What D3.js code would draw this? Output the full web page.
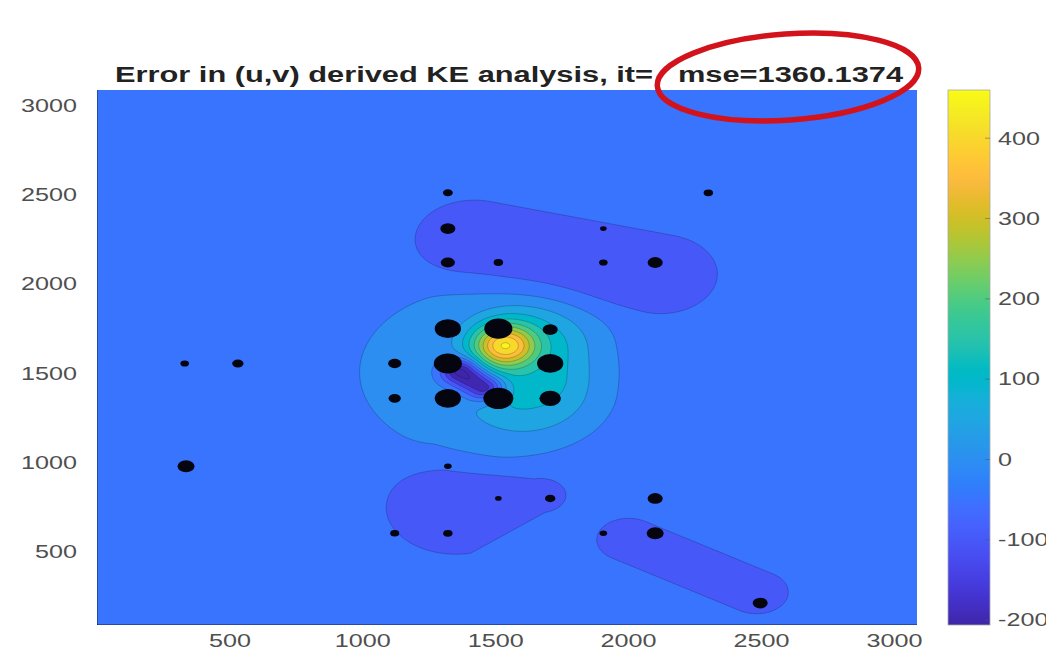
<!DOCTYPE html>
<html>
<head>
<meta charset="utf-8">
<script src="https://cdn.jsdelivr.net/npm/d3@7"></script>
<style>
  html, body { margin: 0; padding: 0; background: #ffffff; }
  svg { display: block; }
  text { font-family: "Liberation Sans", Arial, Helvetica, sans-serif; }
</style>
</head>
<body>
<svg id="chart" width="1046" height="671"></svg>
<script>
// ---------------------------------------------------------------
// Observation stations (km) and the error magnitude at each one
// ---------------------------------------------------------------
const obsX = [1320, 2300, 1320, 1905, 1320, 1510, 1905, 2100,
              330, 530, 1320, 1510, 1705, 1120, 1320, 1705,
              1120, 1320, 1510, 1705, 335, 1320, 1510, 1705,
              1120, 1320, 1905, 2100, 2100, 2495];
const obsY = [2510, 2510, 2310, 2310, 2120, 2120, 2120, 2120,
              1555, 1555, 1750, 1750, 1745, 1555, 1555, 1555,
              1360, 1360, 1360, 1360, 980, 980, 800, 800,
              605, 605, 605, 800, 605, 215];
const obsMagnitude = [36, 32, 98, 12, 85, 32, 25, 98,
                      25, 50, 338, 392, 98, 72, 392, 338,
                      60, 338, 450, 220, 128, 18, 12, 40,
                      28, 32, 18, 98, 128, 98];

// ---------------------------------------------------------------
// Components of the KE error field: each one is a (possibly
// tapered) segment feature with an amplitude and a profile power
// ---------------------------------------------------------------
const fieldBase = -25;
const srcName = ["outer ring", "inner ring", "core", "peak", "trough",
                 "north lobe", "south-west lobe", "south-east lobe"];
const srcX1  = [1458, 1636, 1603, 1535, 1375, 1420, 1350, 2000];
const srcY1  = [1505, 1380, 1480, 1655, 1505, 2245,  750,  569];
const srcX2  = [1458, 1636, 1603, 1535, 1455, 2110, 1665, 2481];
const srcY2  = [1505, 1660, 1630, 1655, 1425, 2055,  820,  275];
const srcR1  = [ 470,  245,  190,   95,   62,  224,  262,  120];
const srcR2  = [ 470,  245,  190,   95,   62,  224,  100,  120];
const srcAmp = [  50,   50,   50,  335, -282,  -50,  -50,  -50];
const srcPow = [   4,    4,    4,    2,    2,    4,    4,    4];

// Contour levels, colour limits and axis ticks
const contourLevels = d3.range(-200, 451, 50);
const colorLimits = [-206, 460];
const xDomain = [0, 3085];
const yDomain = [92, 3085];
const xTicks = [500, 1000, 1500, 2000, 2500, 3000];
const yTicks = [500, 1000, 1500, 2000, 2500, 3000];
const cbTicks = [-200, -100, 0, 100, 200, 300, 400];
const titleLeft = "Error in (u,v) derived KE analysis, it=";
const titleRight = "mse=1360.1374";

// Parula colour map (64 entries)
const parula = [
  [0.2422,0.1504,0.6603],[0.2504,0.1650,0.7076],[0.2578,0.1818,0.7511],[0.2647,0.1978,0.7952],
  [0.2706,0.2147,0.8364],[0.2751,0.2342,0.8710],[0.2783,0.2559,0.8991],[0.2803,0.2782,0.9221],
  [0.2813,0.3006,0.9414],[0.2810,0.3228,0.9579],[0.2795,0.3447,0.9717],[0.2760,0.3667,0.9829],
  [0.2699,0.3892,0.9906],[0.2602,0.4123,0.9952],[0.2440,0.4358,0.9988],[0.2206,0.4603,0.9973],
  [0.1963,0.4847,0.9892],[0.1834,0.5074,0.9798],[0.1786,0.5289,0.9682],[0.1764,0.5499,0.9520],
  [0.1687,0.5703,0.9359],[0.1540,0.5902,0.9218],[0.1460,0.6091,0.9079],[0.1380,0.6276,0.8973],
  [0.1248,0.6459,0.8883],[0.1113,0.6635,0.8763],[0.0952,0.6798,0.8598],[0.0689,0.6948,0.8394],
  [0.0297,0.7082,0.8163],[0.0036,0.7203,0.7917],[0.0067,0.7312,0.7660],[0.0433,0.7411,0.7394],
  [0.0964,0.7500,0.7120],[0.1408,0.7584,0.6842],[0.1717,0.7670,0.6554],[0.1938,0.7758,0.6251],
  [0.2161,0.7843,0.5923],[0.2470,0.7918,0.5567],[0.2906,0.7973,0.5188],[0.3406,0.8008,0.4789],
  [0.3909,0.8029,0.4354],[0.4456,0.8024,0.3909],[0.5044,0.7993,0.3480],[0.5616,0.7942,0.3045],
  [0.6174,0.7876,0.2612],[0.6720,0.7793,0.2227],[0.7242,0.7698,0.1910],[0.7738,0.7598,0.1646],
  [0.8203,0.7498,0.1535],[0.8634,0.7406,0.1596],[0.9035,0.7330,0.1774],[0.9393,0.7288,0.2100],
  [0.9728,0.7298,0.2394],[0.9956,0.7434,0.2371],[0.9970,0.7659,0.2199],[0.9952,0.7893,0.2028],
  [0.9892,0.8136,0.1885],[0.9786,0.8386,0.1766],[0.9676,0.8639,0.1643],[0.9610,0.8890,0.1537],
  [0.9597,0.9135,0.1423],[0.9628,0.9373,0.1265],[0.9691,0.9606,0.1064],[0.9769,0.9839,0.0805]
];

// ---------------------------------------------------------------
// Layout
// ---------------------------------------------------------------
const plot = { left: 97, right: 917, top: 90, bottom: 625 };
const cbar = { left: 948, right: 990 };
const stretch = 1.4;           // horizontal glyph stretch of the figure
const svg = d3.select("#chart");

const xScale = d3.scaleLinear().domain(xDomain).range([plot.left, plot.right]);
const yScale = d3.scaleLinear().domain(yDomain).range([plot.bottom, plot.top]);

const parulaScale = d3.scaleLinear()
  .domain(parula.map((_, i) => i / (parula.length - 1)))
  .range(parula.map(c => d3.rgb(c[0] * 255, c[1] * 255, c[2] * 255).toString()))
  .clamp(true);
const colorOf = v => parulaScale((v - colorLimits[0]) / (colorLimits[1] - colorLimits[0]));

// ---------------------------------------------------------------
// Sample the field on a regular grid
// ---------------------------------------------------------------
function fieldAt(x, y) {
  let v = fieldBase;
  for (let k = 0; k < srcAmp.length; k++) {
    const ax = srcX1[k], ay = srcY1[k], dx = srcX2[k] - ax, dy = srcY2[k] - ay;
    const L2 = dx * dx + dy * dy;
    let t = L2 > 0 ? ((x - ax) * dx + (y - ay) * dy) / L2 : 0;
    t = Math.max(0, Math.min(1, t));
    const d = Math.hypot(x - (ax + t * dx), y - (ay + t * dy));
    const r = srcR1[k] + (srcR2[k] - srcR1[k]) * t;
    v += srcAmp[k] * Math.exp(-Math.LN2 * Math.pow(d / r, srcPow[k]));
  }
  return v;
}

const step = 8;
const nx = Math.ceil((xDomain[1] - xDomain[0]) / step) + 1;
const ny = Math.ceil((yDomain[1] - yDomain[0]) / step) + 1;
const grid = new Float64Array(nx * ny);
for (let j = 0; j < ny; j++) {
  const y = yDomain[0] + (j + 0.5) * step;
  for (let i = 0; i < nx; i++) {
    grid[j * nx + i] = fieldAt(xDomain[0] + (i + 0.5) * step, y);
  }
}

const contours = d3.contours().size([nx, ny]).thresholds(contourLevels)(grid);
const gridToScreen = d3.geoTransform({
  point(gx, gy) {
    this.stream.point(xScale(xDomain[0] + gx * step), yScale(yDomain[0] + gy * step));
  }
});
const path = d3.geoPath(gridToScreen);

svg.append("clipPath").attr("id", "plot-clip")
  .append("rect")
  .attr("x", plot.left).attr("y", plot.top)
  .attr("width", plot.right - plot.left).attr("height", plot.bottom - plot.top);

const field = svg.append("g").attr("clip-path", "url(#plot-clip)");
field.append("rect")
  .attr("x", plot.left).attr("y", plot.top)
  .attr("width", plot.right - plot.left).attr("height", plot.bottom - plot.top)
  .attr("fill", colorOf(colorLimits[0]));

field.selectAll("path.band")
  .data(contours)
  .join("path")
  .attr("class", "band")
  .attr("d", path)
  .attr("fill", d => colorOf(d.value))
  .attr("stroke", "none");

field.selectAll("path.isoline")
  .data(contours)
  .join("path")
  .attr("class", "isoline")
  .attr("d", path)
  .attr("fill", "none")
  .attr("stroke", "#000")
  .attr("stroke-opacity", 0.2)
  .attr("stroke-width", 1);

// Observation markers
const rScale = d3.scaleSqrt().domain([0, d3.max(obsMagnitude)]).range([1, 15]);
field.selectAll("ellipse.obs")
  .data(obsX.map((x, i) => ({ x, y: obsY[i], m: obsMagnitude[i] })))
  .join("ellipse")
  .attr("class", "obs")
  .attr("cx", d => xScale(d.x))
  .attr("cy", d => yScale(d.y))
  .attr("rx", d => rScale(d.m))
  .attr("ry", d => rScale(d.m) / stretch)
  .attr("fill", "#050510");

// ---------------------------------------------------------------
// Axes tick labels
// ---------------------------------------------------------------
const tickColor = "#4f4f4f";
svg.append("g").selectAll("text")
  .data(xTicks)
  .join("text")
  .attr("transform", d => `translate(${xScale(d)},647) scale(${stretch},1)`)
  .attr("text-anchor", "middle")
  .attr("font-size", 18)
  .attr("fill", tickColor)
  .text(d => d);

svg.append("g").selectAll("text")
  .data(yTicks)
  .join("text")
  .attr("transform", d => `translate(${plot.left - 20},${yScale(d)}) scale(${stretch},1)`)
  .attr("text-anchor", "end")
  .attr("dy", "0.35em")
  .attr("font-size", 18)
  .attr("fill", tickColor)
  .text(d => d);

// ---------------------------------------------------------------
// Colour bar
// ---------------------------------------------------------------
const cScale = d3.scaleLinear().domain(colorLimits).range([plot.bottom, plot.top]);
const grad = svg.append("defs").append("linearGradient")
  .attr("id", "parula-grad")
  .attr("x1", 0).attr("y1", 1).attr("x2", 0).attr("y2", 0);
grad.selectAll("stop")
  .data(parula)
  .join("stop")
  .attr("offset", (_, i) => i / (parula.length - 1))
  .attr("stop-color", c => d3.rgb(c[0] * 255, c[1] * 255, c[2] * 255).toString());

svg.append("rect")
  .attr("x", cbar.left).attr("y", plot.top)
  .attr("width", cbar.right - cbar.left).attr("height", plot.bottom - plot.top)
  .attr("fill", "url(#parula-grad)")
  .attr("stroke", "#a8a8a8")
  .attr("stroke-width", 0.8);

svg.append("g").selectAll("line")
  .data(cbTicks)
  .join("line")
  .attr("x1", cbar.right - 5).attr("x2", cbar.right)
  .attr("y1", d => cScale(d)).attr("y2", d => cScale(d))
  .attr("stroke", "#555").attr("stroke-opacity", 0.5);

svg.append("g").selectAll("text")
  .data(cbTicks)
  .join("text")
  .attr("transform", d => `translate(${cbar.right + 8},${cScale(d)}) scale(${stretch},1)`)
  .attr("dy", "0.35em")
  .attr("font-size", 18)
  .attr("fill", tickColor)
  .text(d => d);

// ---------------------------------------------------------------
// Title and highlight ring
// ---------------------------------------------------------------
svg.append("text")
  .attr("transform", `translate(115,82) scale(${stretch},1)`)
  .attr("font-size", 22).attr("font-weight", "bold").attr("fill", "#222")
  .text(titleLeft);
svg.append("text")
  .attr("transform", `translate(678,82) scale(${stretch},1)`)
  .attr("font-size", 22).attr("font-weight", "bold").attr("fill", "#222")
  .text(titleRight);

svg.append("ellipse")
  .attr("transform", "translate(788,77) rotate(-4)")
  .attr("rx", 131).attr("ry", 43)
  .attr("fill", "none")
  .attr("stroke", "#d3131c")
  .attr("stroke-width", 5.5);
</script>
</body>
</html>
